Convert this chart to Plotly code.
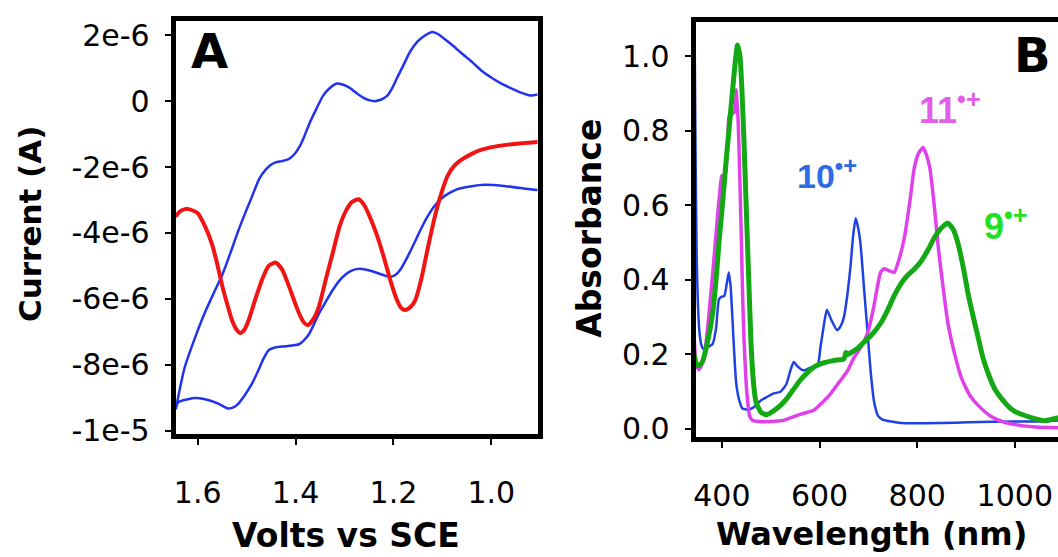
import numpy as np
import plotly.graph_objects as go

# ---------------- Panel A data (cyclic / differential pulse voltammetry) -------------
cv_upper_v = [1.645, 1.627, 1.606, 1.586, 1.568, 1.55, 1.533, 1.517, 1.503, 1.489, 1.474, 1.461,
              1.451, 1.441, 1.428, 1.414, 1.403, 1.393, 1.383, 1.372, 1.358, 1.344, 1.33, 1.317,
              1.303, 1.29, 1.275, 1.261, 1.25, 1.238, 1.225, 1.213, 1.203, 1.193, 1.18, 1.166,
              1.15, 1.137, 1.128, 1.12, 1.108, 1.095, 1.078, 1.062, 1.04, 1.021, 1.0, 0.979,
              0.958, 0.938, 0.92, 0.905]
cv_upper_uA = [-9.36, -8.1, -7.2, -6.44, -5.85, -5.28, -4.6, -3.93, -3.4, -2.89, -2.35, -2.08,
               -1.94, -1.86, -1.82, -1.76, -1.62, -1.41, -1.1, -0.69, -0.25, 0.16, 0.4, 0.53,
               0.5, 0.41, 0.24, 0.1, 0.03, 0.0, 0.05, 0.16, 0.38, 0.69, 1.08, 1.5, 1.82, 1.98,
               2.06, 2.1, 2.03, 1.88, 1.68, 1.47, 1.2, 0.94, 0.72, 0.53, 0.38, 0.25, 0.17, 0.2]

cv_lower_v = [1.645, 1.64, 1.62, 1.606, 1.585, 1.558, 1.538, 1.525, 1.517, 1.505, 1.49, 1.477,
              1.465, 1.455, 1.44, 1.42, 1.393, 1.383, 1.372, 1.352, 1.338, 1.323, 1.31, 1.296,
              1.283, 1.269, 1.255, 1.24, 1.222, 1.207, 1.196, 1.186, 1.172, 1.158, 1.145, 1.131,
              1.118, 1.104, 1.087, 1.069, 1.04, 1.013, 0.97, 0.924, 0.905]
cv_lower_uA = [-9.36, -9.14, -9.05, -9.01, -9.05, -9.18, -9.33, -9.28, -9.18, -8.95, -8.6, -8.2,
               -7.8, -7.56, -7.47, -7.44, -7.38, -7.26, -7.06, -6.44, -6.08, -5.71, -5.44, -5.24,
               -5.13, -5.09, -5.12, -5.18, -5.27, -5.34, -5.28, -5.12, -4.75, -4.33, -3.92, -3.52,
               -3.22, -2.98, -2.8, -2.67, -2.58, -2.54, -2.58, -2.67, -2.7]

dpv_v = [1.645, 1.635, 1.621, 1.6, 1.585, 1.571, 1.56, 1.55, 1.54, 1.53, 1.52, 1.513, 1.505,
         1.496, 1.482, 1.468, 1.455, 1.441, 1.428, 1.414, 1.403, 1.393, 1.383, 1.375, 1.363,
         1.352, 1.338, 1.323, 1.31, 1.296, 1.284, 1.271, 1.26, 1.248, 1.233, 1.219, 1.205,
         1.193, 1.184, 1.176, 1.165, 1.155, 1.143, 1.131, 1.12, 1.11, 1.1, 1.089, 1.075, 1.062,
         1.04, 1.021, 0.993, 0.965, 0.924, 0.905]
dpv_uA = [-3.5, -3.33, -3.27, -3.4, -3.8, -4.33, -4.95, -5.6, -6.15, -6.65, -6.95, -7.04, -6.95,
          -6.65, -6.0, -5.4, -5.0, -4.9, -5.1, -5.6, -6.05, -6.44, -6.72, -6.8, -6.6, -6.22,
          -5.4, -4.55, -3.8, -3.3, -3.05, -2.98, -3.15, -3.52, -4.1, -4.77, -5.5, -6.03, -6.28,
          -6.34, -6.25, -6.03, -5.4, -4.55, -3.8, -3.2, -2.7, -2.26, -1.95, -1.79, -1.6, -1.48,
          -1.38, -1.32, -1.26, -1.24]

a_xticks = [1.6, 1.4, 1.2, 1.0]
a_xtext = ["1.6", "1.4", "1.2", "1.0"]
a_yticks = [2e-6, 0, -2e-6, -4e-6, -6e-6, -8e-6, -1e-5]
a_ytext = ["2e-6", "0", "-2e-6", "-4e-6", "-6e-6", "-8e-6", "-1e-5"]

# ---------------- Panel B data (absorption spectra) -------------
wl_10 = [343, 346, 348.5, 351, 354, 358, 363, 372, 381, 388, 394, 400, 405, 410, 414, 418, 421,
         425, 429, 434, 442, 453, 465, 479, 491, 505, 520, 532, 541, 547, 555, 565, 571, 582,
         596, 602, 609, 615, 625, 636, 643, 650, 657, 663, 669, 674, 679, 684, 691, 698, 705,
         712, 720, 729, 767, 850, 905, 1000, 1043, 1089]
abs_10 = [1.25, 0.75, 0.45, 0.33, 0.26, 0.225, 0.214, 0.22, 0.228, 0.27, 0.348, 0.355, 0.357,
          0.39, 0.42, 0.38, 0.31, 0.21, 0.127, 0.085, 0.055, 0.052, 0.058, 0.076, 0.085, 0.095,
          0.10, 0.12, 0.16, 0.18, 0.168, 0.158, 0.158, 0.165, 0.17, 0.22, 0.28, 0.32, 0.29,
          0.265, 0.275, 0.30, 0.36, 0.43, 0.52, 0.565, 0.54, 0.496, 0.38, 0.265, 0.15, 0.071,
          0.035, 0.025, 0.016, 0.016, 0.018, 0.02, 0.02, 0.023]

wl_11 = [343, 346, 350, 353, 358, 363, 370, 377, 384, 391, 396, 400, 405, 408, 412, 415, 420,
         426, 430, 434, 437, 440, 443, 446, 451, 457, 464, 477, 500, 526, 560, 588, 605, 623,
         640, 657, 670, 685, 698, 710, 719, 725, 732, 742, 753, 764, 774, 785, 794, 803, 812,
         819, 826, 835, 843, 853, 863, 877, 891, 908, 926, 950, 974, 1000, 1043, 1089]
abs_11 = [0.25, 0.19, 0.165, 0.159, 0.17, 0.19, 0.26, 0.358, 0.46, 0.57, 0.64, 0.68, 0.68, 0.69,
          0.77, 0.84, 0.845, 0.85, 0.91, 0.80, 0.66, 0.50, 0.33, 0.22, 0.10, 0.034, 0.022, 0.02,
          0.02, 0.023, 0.039, 0.05, 0.07, 0.095, 0.125, 0.155, 0.19, 0.22, 0.256, 0.32, 0.385,
          0.42, 0.43, 0.425, 0.42, 0.46, 0.515, 0.61, 0.70, 0.74, 0.755, 0.735, 0.70, 0.60, 0.49,
          0.38, 0.284, 0.20, 0.136, 0.09, 0.062, 0.035, 0.02, 0.012, 0.005, 0.003]

wl_9 = [343, 346, 350, 355, 360, 370, 381, 388, 394, 401, 408, 415, 422, 427, 432, 437, 441, 445,
        450, 455, 460, 465, 470, 480, 491, 505, 519, 532, 546, 560, 574, 590, 608, 630, 650, 654,
        657, 665, 677, 690, 705, 726, 740, 753, 767, 781, 795, 808, 822, 836, 850, 863, 874, 884,
        895, 905, 915, 925, 935, 948, 960, 975, 994, 1012, 1035, 1060, 1089]
abs_9 = [0.20, 0.18, 0.17, 0.172, 0.18, 0.23, 0.31, 0.40, 0.50, 0.60, 0.71, 0.81, 0.91, 0.98, 1.03,
         1.0, 0.91, 0.78, 0.59, 0.40, 0.22, 0.12, 0.071, 0.045, 0.038, 0.048, 0.062, 0.08, 0.105,
         0.13, 0.15, 0.167, 0.177, 0.184, 0.188, 0.205, 0.2, 0.205, 0.215, 0.232, 0.25, 0.285,
         0.32, 0.358, 0.39, 0.413, 0.43, 0.45, 0.48, 0.515, 0.54, 0.552, 0.535, 0.496, 0.43,
         0.358, 0.30, 0.245, 0.19, 0.14, 0.105, 0.078, 0.052, 0.04, 0.03, 0.022, 0.03]

b_xticks = [400, 600, 800, 1000]
b_xtext = ["400", "600", "800", "1000"]
b_yticks = [0.0, 0.2, 0.4, 0.6, 0.8, 1.0]
b_ytext = ["0.0", "0.2", "0.4", "0.6", "0.8", "1.0"]

# ---------------- Figure -------------
W, H = 1058, 557


def fx(p):
    return p / W


def fy(p):
    return 1 - p / H


fig = go.Figure()

# Panel A
cv_v = list(reversed(cv_lower_v)) + cv_upper_v
cv_i = np.array(list(reversed(cv_lower_uA)) + cv_upper_uA) * 1e-6
fig.add_trace(go.Scatter(x=cv_v, y=cv_i, mode="lines", xaxis="x", yaxis="y",
                         line=dict(color="#2233ee", width=2.5, shape="spline", smoothing=0.6)))
fig.add_trace(go.Scatter(x=dpv_v, y=np.array(dpv_uA) * 1e-6, mode="lines", xaxis="x", yaxis="y",
                         line=dict(color="#f01414", width=4, shape="spline", smoothing=0.6)))

# Panel B
fig.add_trace(go.Scatter(x=wl_10, y=abs_10, mode="lines", xaxis="x2", yaxis="y2",
                         line=dict(color="#2040e6", width=2.5, shape="spline", smoothing=0.5)))
fig.add_trace(go.Scatter(x=wl_11, y=abs_11, mode="lines", xaxis="x2", yaxis="y2",
                         line=dict(color="#e040ea", width=3.5, shape="spline", smoothing=0.5)))
fig.add_trace(go.Scatter(x=wl_9, y=abs_9, mode="lines", xaxis="x2", yaxis="y2",
                         line=dict(color="#14a814", width=5, shape="spline", smoothing=0.5)))

tickfont = dict(family="DejaVu Sans", size=30, color="black")
common = dict(showgrid=False, zeroline=False, showline=True, linewidth=5, linecolor="black",
              ticks="outside", ticklen=6, tickwidth=2, tickcolor="black", tickfont=tickfont,
              tickmode="array", fixedrange=True)

fig.update_layout(
    width=W, height=H, autosize=False,
    margin=dict(l=0, r=0, t=0, b=0),
    paper_bgcolor="white", plot_bgcolor="white",
    showlegend=False,
    xaxis=dict(domain=[fx(174), fx(536.7)], range=[1.6451, 0.9051], anchor="y", mirror=True,
               tickvals=a_xticks, ticktext=a_xtext, ticklabelstandoff=22, **common),
    yaxis=dict(domain=[fy(445), fy(18.3)], range=[-1.0117e-5, 2.441e-6], anchor="x", mirror=True,
               tickvals=a_yticks, ticktext=a_ytext, ticklabelstandoff=9, **common),
    xaxis2=dict(domain=[fx(695), 1.0], range=[346.3, 1088.5], anchor="y2", mirror=True,
                tickvals=b_xticks, ticktext=b_xtext, ticklabelstandoff=22, **common),
    yaxis2=dict(domain=[fy(448), fy(19.5)], range=[-0.0224, 1.092], anchor="x2", mirror=False,
                tickvals=b_yticks, ticktext=b_ytext, ticklabelstandoff=9, **common),
)

bold = dict(family="DejaVu Sans", color="black", weight="bold")
ann = [
    dict(text="Volts vs SCE", x=fx(345), y=fy(549), font=dict(size=33, **bold)),
    dict(text="Current (A)", x=fx(28), y=fy(228), textangle=-90, font=dict(size=31, **bold)),
    dict(text="Wavelength (nm)", x=fx(871), y=fy(548), font=dict(size=32, **bold)),
    dict(text="Absorbance", x=fx(589), y=fy(232), textangle=-90, font=dict(size=33, **bold)),
    dict(text="A", x=fx(208), y=fy(50), font=dict(size=48, **bold)),
    dict(text="B", x=fx(1032), y=fy(54), font=dict(size=48, **bold)),
    dict(text="10<sup>•+</sup>", x=fx(795), y=fy(176), xanchor="left",
         font=dict(family="Liberation Sans", size=34, color="#2f6ae6", weight="bold")),
    dict(text="11<sup>•+</sup>", x=fx(917), y=fy(108), xanchor="left",
         font=dict(family="Liberation Sans", size=36, color="#e25ee8", weight="bold")),
    dict(text="9<sup>•+</sup>", x=fx(982), y=fy(228), xanchor="left",
         font=dict(family="Liberation Sans", size=36, color="#22e022", weight="bold")),
]
for a in ann:
    a.setdefault("xanchor", "center")
    a.update(xref="paper", yref="paper", yanchor="middle", showarrow=False)
fig.update_layout(annotations=ann)

fig.write_html("out.html", config={"displayModeBar": False},
               post_script="document.body.style.margin='0';document.body.style.overflow='hidden';")
